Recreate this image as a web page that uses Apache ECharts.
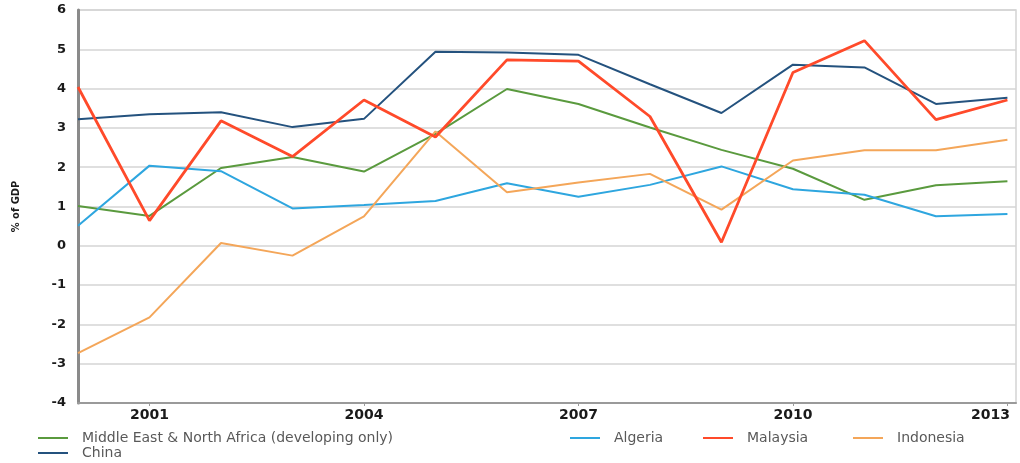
<!DOCTYPE html>
<html>
<head>
<meta charset="utf-8">
<script src="https://cdn.jsdelivr.net/npm/echarts@6/dist/echarts.min.js"></script>
<style>html,body{margin:0;padding:0;background:#fff}#c{width:1020px;height:463px}</style>
</head>
<body>
<div id="c"></div>
<script>
var years = [2000,2001,2002,2003,2004,2005,2006,2007,2008,2009,2010,2011,2012,2013];
var xTickLabels = [2001,2004,2007,2010,2013];
var yTicks = [-4,-3,-2,-1,0,1,2,3,4,5,6];
var mena     = [1.01,0.76,1.98,2.26,1.89,2.85,3.99,3.61,3.01,2.44,1.96,1.17,1.54,1.64];
var algeria  = [0.51,2.04,1.90,0.95,1.04,1.14,1.59,1.25,1.55,2.02,1.44,1.30,0.75,0.81];
var malaysia = [4.04,0.64,3.18,2.27,3.71,2.77,4.73,4.70,3.29,0.09,4.41,5.22,3.21,3.71];
var indonesia= [-2.73,-1.82,0.07,-0.25,0.75,2.91,1.36,1.61,1.83,0.92,2.17,2.43,2.43,2.70];
var china    = [3.22,3.35,3.40,3.02,3.23,4.94,4.92,4.86,4.11,3.38,4.61,4.54,3.61,3.77];

function pairs(v){ return years.map(function(y,i){ return [y, v[i]]; }); }

var seriesDefs = [
  {name:'Middle East & North Africa (developing only)', data:mena, color:'#5a9a3e', w:2},
  {name:'Algeria', data:algeria, color:'#2ea6df', w:2},
  {name:'Indonesia', data:indonesia, color:'#f4a659', w:2},
  {name:'China', data:china, color:'#24527e', w:2},
  {name:'Malaysia', data:malaysia, color:'#ff4a2a', w:2.8}
];

var legendText = {color:'#595959', fontFamily:'DejaVu Sans', fontSize:14, padding:[0,0,0,9]};
function lg(name, left, top){
  return {data:[name], left:left, top:top, orient:'horizontal', itemWidth:30, itemHeight:2, itemGap:0,
    icon:'rect', textStyle:legendText, padding:0, selectedMode:false};
}

var lastLabel = xTickLabels[xTickLabels.length-1];
var chart = echarts.init(document.getElementById('c'));
chart.setOption({
  animation:false,
  backgroundColor:'#fff',
  grid:{left:78, right:4, top:10, bottom:60, show:true, borderColor:'#d4d4d4', borderWidth:1.5,
    backgroundColor:'transparent', outerBoundsMode:'none', containLabel:false},
  legend:[
    lg('Middle East & North Africa (developing only)', 38, 431),
    lg('Algeria', 570, 431),
    lg('Malaysia', 703, 431),
    lg('Indonesia', 853, 431),
    lg('China', 38, 446)
  ],
  xAxis:{
    type:'value', min:2000, max:2013.12,
    axisLine:{show:true, onZero:false, lineStyle:{color:'#9a9a9a', width:2}},
    axisTick:{show:true, customValues:xTickLabels, length:3, lineStyle:{color:'#9a9a9a'}},
    axisLabel:{customValues:xTickLabels, color:'#1a1a1a', fontWeight:'bold', fontFamily:'DejaVu Sans', fontSize:14, margin:5,
      formatter:function(v){ return v === lastLabel ? '{r|' + v + '}' : String(v); },
      rich:{r:{color:'#1a1a1a', fontWeight:'bold', fontFamily:'DejaVu Sans', fontSize:14, padding:[0,34,0,0]}}},
    splitLine:{show:false}
  },
  yAxis:{
    type:'value', min:-4, max:6, interval:1,
    name:'% of GDP', nameLocation:'middle', nameGap:56, nameRotate:90,
    nameTextStyle:{color:'#1a1a1a', fontFamily:'DejaVu Sans Condensed, Liberation Sans, sans-serif', fontSize:11, fontWeight:'bold'},
    axisLine:{show:true, onZero:false, lineStyle:{color:'#8a8a8a', width:3}},
    axisTick:{show:false},
    axisLabel:{color:'#1a1a1a', fontWeight:'bold', fontFamily:'DejaVu Sans', fontSize:13, margin:12},
    splitLine:{show:true, lineStyle:{color:'#d4d4d4', width:1.5}}
  },
  series: seriesDefs.map(function(s){
    return {name:s.name, type:'line', data:pairs(s.data), showSymbol:false, symbol:'none',
      color:s.color, lineStyle:{color:s.color, width:s.w}, itemStyle:{color:s.color}};
  })
});
</script>
</body>
</html>
